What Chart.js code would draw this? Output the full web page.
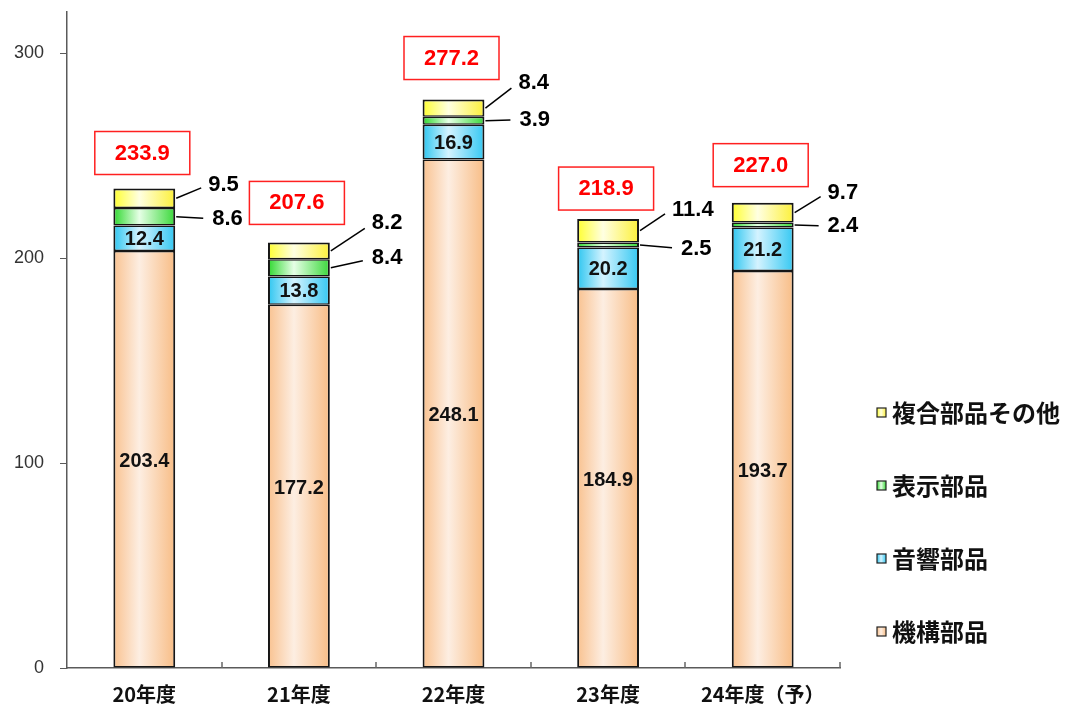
<!DOCTYPE html>
<html lang="ja">
<head>
<meta charset="utf-8">
<title>電子部品 出荷額</title>
<script src="https://cdn.jsdelivr.net/npm/chart.js@4/dist/chart.umd.min.js"></script>
<style>
    html, body { margin: 0; padding: 0; background: #fff; }
    #wrap { position: relative; width: 1065px; height: 706px; }
</style>
</head>
<body>
<div id="wrap"><canvas id="parts-chart"></canvas></div>
<script>
(function () {
    'use strict';

    // data
    var years = ['20年度', '21年度', '22年度', '23年度', '24年度（予）'];
    var kikou = [203.4, 177.2, 248.1, 184.9, 193.7];     // 機構部品
    var onkyo = [12.4, 13.8, 16.9, 20.2, 21.2];          // 音響部品
    var hyouji = [8.6, 8.4, 3.9, 2.5, 2.4];              // 表示部品
    var fukugou = [9.5, 8.2, 8.4, 11.4, 9.7];            // 複合部品その他
    var totals = [233.9, 207.6, 277.2, 218.9, 227.0];
    var yTicks = [0, 100, 200, 300];

    // hand placement of the callouts (px), per bar
    var boxGap = [14, 18, 20, 9, 16];
    var topDx = [33, 42, 34, 33, 34];
    var topDy = [-13, -28, -25, -21, -20];
    var midDx = [37, 42, 35, 42, 34];
    var midDy = [2, -10, -1, 4, 1];

    var NUM_FONT = '"Liberation Sans", Arial, sans-serif';
    var JP_FONT = '"Noto Sans CJK JP", "Noto Sans", sans-serif';

    var shades = {
        kikou: ['#f9c290', '#fdeee2', '#f8bd86'],
        onkyo: ['#2ec6f0', '#d4f3ff', '#35c8f2'],
        hyouji: ['#2fd82f', '#e6ffe6', '#3ad83a'],
        fukugou: ['#ffff30', '#ffffe2', '#fcf03a']
    };

    function gradientFor(stops) {
        return function (c) {
            var chart = c.chart;
            var x = chart.scales.x;
            if (c.type !== 'data' || !chart.chartArea || !x) return stops[1];
            var cx = x.getPixelForValue(c.dataIndex);
            var hw = x.width / years.length * 0.4 / 2;
            var g = chart.ctx.createLinearGradient(cx - hw, 0, cx + hw, 0);
            g.addColorStop(0, stops[0]);
            g.addColorStop(0.42, stops[1]);
            g.addColorStop(1, stops[2]);
            return g;
        };
    }

    function ds(label, data, stops, isTop) {
        return {
            label: label,
            data: data,
            backgroundColor: gradientFor(stops),
            borderColor: '#161616',
            borderWidth: { left: 2, right: 2, top: isTop ? 2 : 1.5, bottom: 1.5 },
            borderSkipped: false
        };
    }

    var labelPlugin = {
        id: 'partsLabels',
        afterDatasetsDraw: function (chart) {
            var ctx = chart.ctx;
            ctx.save();
            for (var i = 0; i < years.length; i++) {
                var b0 = chart.getDatasetMeta(0).data[i];
                var b1 = chart.getDatasetMeta(1).data[i];
                var b2 = chart.getDatasetMeta(2).data[i];
                var b3 = chart.getDatasetMeta(3).data[i];
                var right = b0.x + b0.width / 2;

                // values inside the bar
                ctx.fillStyle = '#111';
                ctx.font = 'bold 20px ' + NUM_FONT;
                ctx.textAlign = 'center';
                ctx.textBaseline = 'middle';
                ctx.fillText(kikou[i].toFixed(1), b0.x, (b0.y + b0.base) / 2 + 2);
                ctx.fillText(onkyo[i].toFixed(1), b1.x, (b1.y + b1.base) / 2 + 1);

                // callouts for the thin segments
                ctx.font = 'bold 22px ' + NUM_FONT;
                ctx.textAlign = 'left';
                ctx.fillStyle = '#000';
                ctx.strokeStyle = '#000';
                ctx.lineWidth = 1.5;

                var m3 = (b3.y + b3.base) / 2;
                var t3 = m3 + topDy[i];
                ctx.beginPath();
                ctx.moveTo(right + 1, m3);
                ctx.lineTo(right + topDx[i] - 7, t3 + (m3 - t3) * 0.2);
                ctx.stroke();
                ctx.fillText(fukugou[i].toFixed(1), right + topDx[i], t3);

                var m2 = (b2.y + b2.base) / 2;
                var t2 = m2 + midDy[i];
                ctx.beginPath();
                ctx.moveTo(right + 1, m2);
                ctx.lineTo(right + midDx[i] - 9, t2 + (m2 - t2) * 0.3);
                ctx.stroke();
                ctx.fillText(hyouji[i].toFixed(1), right + midDx[i], t2);

                // total in a red box
                var bx = b0.x - 2;
                var bottom = b3.y - boxGap[i];
                ctx.strokeStyle = '#ff2020';
                ctx.lineWidth = 1.5;
                ctx.strokeRect(bx - 47.5, bottom - 43, 95, 43);
                ctx.fillStyle = '#ff0000';
                ctx.textAlign = 'center';
                ctx.font = 'bold 22px ' + NUM_FONT;
                ctx.fillText(totals[i].toFixed(1), bx, bottom - 21);
            }
            ctx.restore();
        },
        afterDraw: function (chart) {
            var ctx = chart.ctx;
            var x = chart.scales.x;
            ctx.save();

            // small upward ticks between categories
            ctx.strokeStyle = '#666';
            ctx.lineWidth = 1.5;
            var step = x.width / years.length;
            for (var k = 1; k <= years.length; k++) {
                var px = Math.round(x.left + step * k);
                ctx.beginPath();
                ctx.moveTo(px, x.top);
                ctx.lineTo(px, x.top - 6);
                ctx.stroke();
            }

            // legend, top item is the top of the stack
            var items = [
                ['複合部品その他', shades.fukugou],
                ['表示部品', shades.hyouji],
                ['音響部品', shades.onkyo],
                ['機構部品', shades.kikou]
            ];
            var rowY = [413, 486, 559, 632];
            items.forEach(function (it, n) {
                var y = rowY[n];
                var g = ctx.createLinearGradient(877, 0, 886, 0);
                g.addColorStop(0, it[1][0]);
                g.addColorStop(0.45, it[1][1]);
                g.addColorStop(1, it[1][2]);
                ctx.fillStyle = g;
                ctx.fillRect(877, y - 5, 9, 9);
                ctx.strokeStyle = '#222';
                ctx.lineWidth = 1.2;
                ctx.strokeRect(877, y - 5, 9, 9);
                ctx.fillStyle = '#111';
                ctx.font = 'bold 24px ' + JP_FONT;
                ctx.textAlign = 'left';
                ctx.textBaseline = 'middle';
                ctx.fillText(it[0], 892, y);
            });
            ctx.restore();
        }
    };

    new Chart(document.getElementById('parts-chart').getContext('2d'), {
        type: 'bar',
        data: {
            labels: years,
            datasets: [
                ds('機構部品', kikou, shades.kikou, false),
                ds('音響部品', onkyo, shades.onkyo, false),
                ds('表示部品', hyouji, shades.hyouji, false),
                ds('複合部品その他', fukugou, shades.fukugou, true)
            ]
        },
        options: {
            responsive: true,
            maintainAspectRatio: false,
            animation: false,
            layout: { padding: { top: 12, right: 225, bottom: 0, left: 10 } },
            datasets: {
                bar: { barPercentage: 0.4, categoryPercentage: 1.0 }
            },
            plugins: {
                legend: { display: false },
                tooltip: { enabled: false }
            },
            scales: {
                x: {
                    stacked: true,
                    grid: { display: false },
                    border: { display: true, color: '#5a5a5a', width: 1.5 },
                    ticks: {
                        color: '#111',
                        padding: 6,
                        font: { family: JP_FONT, size: 20, weight: 'bold' }
                    },
                    afterFit: function (s) {
                        s.height = 38;
                        s.paddingLeft = 0;
                        s.paddingRight = 0;
                    }
                },
                y: {
                    stacked: true,
                    min: 0,
                    max: 320,
                    grid: { drawOnChartArea: false, tickLength: 7, color: '#5a5a5a' },
                    border: { display: true, color: '#5a5a5a', width: 1.5 },
                    ticks: {
                        color: '#333',
                        padding: 16,
                        font: { family: NUM_FONT, size: 18 }
                    },
                    afterBuildTicks: function (axis) {
                        axis.ticks = yTicks.map(function (v) { return { value: v }; });
                    },
                    afterFit: function (s) {
                        s.width = 57;
                        s.paddingTop = 0;
                        s.paddingBottom = 0;
                    }
                }
            }
        },
        plugins: [labelPlugin]
    });
})();
</script>
</body>
</html>
